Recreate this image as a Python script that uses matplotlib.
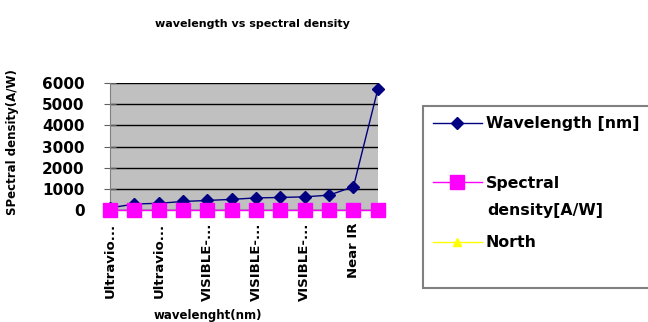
import matplotlib
matplotlib.use("Agg")
import matplotlib.pyplot as plt
from matplotlib.patches import Rectangle
import numpy as np

categories = ["Ultraviolet-C", "Ultraviolet-B", "Ultraviolet-A", "VISIBLE-violet",
              "VISIBLE-blue", "VISIBLE-cyan", "VISIBLE-green", "VISIBLE-yellow",
              "VISIBLE-orange", "VISIBLE-red", "Near IR", "Mid IR"]
wavelength = [100, 280, 315, 400, 450, 500, 570, 590, 620, 700, 1100, 5700]
spectral_density = [0, 0, 0, 0, 0, 0, 0, 0, 0, 0, 0, 0]
north = []
shown_labels = ["Ultravio...", "Ultravio...", "VISIBLE-...", "VISIBLE-...", "VISIBLE-...", "Near IR"]
yticks = [0, 1000, 2000, 3000, 4000, 5000, 6000]

plt.rcParams['font.family'] = ['DejaVu Sans']
fig = plt.figure(figsize=(6.48, 3.22), dpi=100)
ax = fig.add_axes([0.170, 0.348, 0.413, 0.394])
ax.set_facecolor("#C0C0C0")

x = np.arange(len(categories))
l1, = ax.plot(x, wavelength, color="#000080", marker="D", markersize=6, lw=1,
              clip_on=False, zorder=3)
l2, = ax.plot(x, spectral_density, color="#FF00FF", marker="s", markersize=10, lw=1,
              clip_on=False, zorder=4)
l3, = ax.plot(np.arange(len(north)), north, color="#FFFF00", marker="^", markersize=6,
              lw=1, zorder=5)

ax.set_xlim(0, len(categories) - 1)
ax.set_ylim(0, 6000)
ax.set_yticks(yticks)
ax.set_yticklabels([str(v) for v in yticks], fontsize=11, fontweight="bold")
ax.yaxis.grid(True, color="black", lw=1)
ax.set_axisbelow(True)
ax.set_xticks(x[::2])
ax.set_xticklabels(shown_labels, rotation=90, fontsize=9.5, fontweight="bold")
ax.tick_params(axis="x", length=0, pad=9)
ax.tick_params(axis="y", length=9, direction="inout", pad=14, color="#606060")
for s in ["top", "right"]:
    ax.spines[s].set_visible(False)
ax.spines["left"].set_color("#808080")
ax.spines["bottom"].set_color("#808080")

fig.text(0.389, 0.925, "wavelength vs spectral density", ha="center", va="center",
         fontsize=8, fontweight="bold")
fig.text(0.020, 0.56, "SPectral density(A/W)", rotation=90, ha="center", va="center",
         fontsize=8.5, fontweight="bold")
fig.text(0.32, 0.02, "wavelenght(nm)", ha="center", va="center",
         fontsize=8.5, fontweight="bold")

fig.add_artist(Rectangle((423 / 648, 1 - 288 / 322), 240 / 648, 182 / 322,
                         transform=fig.transFigure, facecolor="white",
                         edgecolor="#808080", lw=1.5, zorder=0))
leg = fig.legend([l1, l2, l3], ["Wavelength [nm]", "Spectral", "North"],
                 loc="upper left", bbox_to_anchor=(433 / 648, 1 - 116 / 322),
                 frameon=False, labelspacing=2.85, handlelength=3.1,
                 handletextpad=0.25, borderpad=0.0, borderaxespad=0.0,
                 prop={"weight": "bold", "size": 11.3})
fig.text(487 / 648, 1 - 210 / 322, "density[A/W]", ha="left", va="center",
         fontsize=11.3, fontweight="bold")

fig.savefig("out.png", dpi=100)
